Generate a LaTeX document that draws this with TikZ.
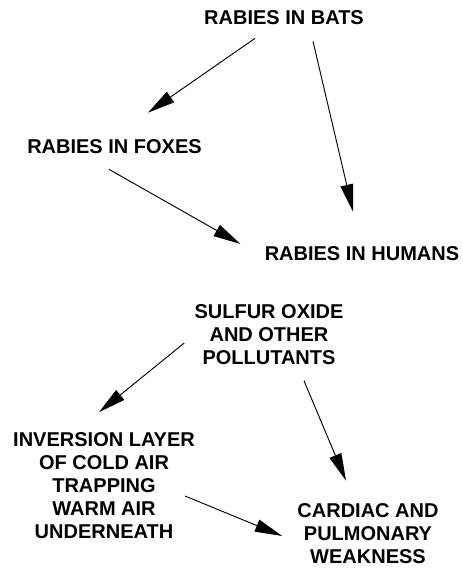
\documentclass[tikz,border=0pt]{standalone}
\usepackage{fontspec}
\setmainfont{Liberation Sans}
\usetikzlibrary{positioning,arrows.meta}
\tikzset{
  flow/.style={-{Triangle[length=20.5pt,width=9.5pt]},line width=0.7pt,draw=black},
  label/.style={inner sep=0pt,align=center,
    font=\bfseries\fontsize{15}{17.25}\selectfont}
}

\begin{document}
\begin{tikzpicture}[x=0.75pt,y=-0.75pt]
  \useasboundingbox (0,0) rectangle (463,570);
  % rabies chain
  \node[label] (bats) at (284,18) {RABIES IN BATS};
  \node[label] (foxes) at (114.5,147) {RABIES IN FOXES};
  \node[label] (humans) at (362,254) {RABIES IN HUMANS};
  % smog chain
  \node[label] (sulfur) at (269,334.5) {SULFUR OXIDE\\AND OTHER\\POLLUTANTS};
  \node[label] (inversion) at (104,485.5) {INVERSION LAYER\\OF COLD AIR\\TRAPPING\\WARM AIR\\UNDERNEATH};
  \node[label] (cardiac) at (368,534) {CARDIAC AND\\PULMONARY\\WEAKNESS};
  \draw[flow] ([shift={(-29,13)}]bats.south) -- ([shift={(33.5,-27)}]foxes.north);
  \draw[flow] ([shift={(29,16)}]bats.south) -- ([shift={(-9,-35)}]humans.north);
  \draw[flow] ([shift={(-5.5,15)}]foxes.south) -- ([shift={(-24,-10)}]humans.west);
  \draw[flow] ([shift={(-10,8.5)}]sulfur.west) -- ([shift={(-5,-20)}]inversion.north);
  \draw[flow] ([shift={(35,16)}]sulfur.south) -- ([shift={(-22,-23)}]cardiac.north);
  \draw[flow] ([shift={(-10,10.5)}]inversion.east) -- ([shift={(-15,2)}]cardiac.west);
\end{tikzpicture}
\end{document}
